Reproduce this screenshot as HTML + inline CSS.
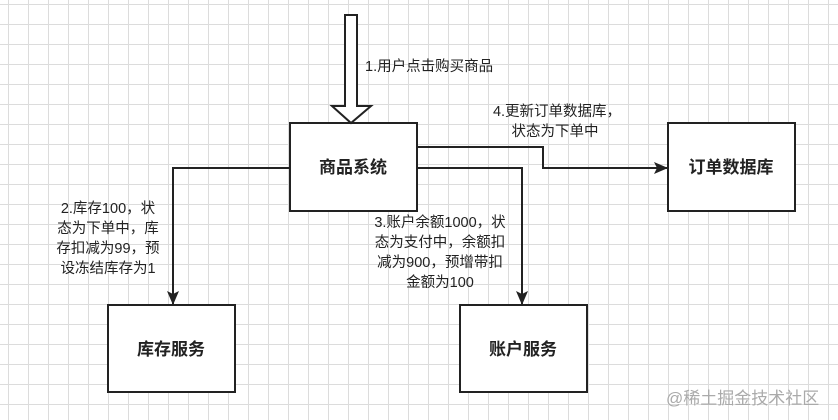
<!DOCTYPE html>
<html><head><meta charset="utf-8"><style>
body{margin:0;width:838px;height:420px;overflow:hidden;background:#fff;}
svg{display:block}
text{font-family:"Liberation Sans","Noto Sans CJK SC",sans-serif;fill:#222;}
</style></head><body>
<svg width="838" height="420" xmlns="http://www.w3.org/2000/svg">
<defs>
<pattern id="g" width="20" height="20" patternUnits="userSpaceOnUse" x="8" y="4">
<rect width="20" height="1" fill="#dcdcdc"/><rect width="1" height="20" fill="#dcdcdc"/>
</pattern>
<marker id="a" markerWidth="14" markerHeight="14" refX="13" refY="7" orient="auto" markerUnits="userSpaceOnUse" viewBox="0 0 14 14"><path d="M0,1L14,7L0,13L3,7z" fill="#222"/></marker>
</defs>
<rect width="838" height="420" fill="url(#g)"/>
<g fill="#fff" stroke="#222" stroke-width="2">
<rect x="290" y="123" width="127" height="88"/>
<rect x="668" y="123" width="127" height="88"/>
<rect x="108" y="305" width="127" height="87"/>
<rect x="460" y="305" width="127" height="87"/>
<path d="M345 15H357V106H371L351 123L332 106H345Z" stroke-width="2"/>
</g>
<g fill="none" stroke="#222" stroke-width="2">
<path d="M290 168H173V304" marker-end="url(#a)"/>
<path d="M417 147H543V168H667" marker-end="url(#a)"/>
<path d="M417 168H522V304" marker-end="url(#a)"/>
</g>
<g font-weight="bold" font-size="17" text-anchor="middle">
<text x="353" y="173">商品系统</text>
<text x="731" y="173">订单数据库</text>
<text x="171" y="355">库存服务</text>
<text x="523" y="355">账户服务</text>
</g>
<g font-size="14.5">
<text x="365" y="71">1.用户点击购买商品</text>
<g text-anchor="middle">
<text x="557" y="116">4.更新订单数据库，</text>
<text x="555" y="136">状态为下单中</text>
<text x="108" y="213">2.库存100，状</text>
<text x="108" y="233">态为下单中，库</text>
<text x="108" y="253">存扣减为99，预</text>
<text x="108" y="273">设冻结库存为1</text>
<text x="440" y="227">3.账户余额1000，状</text>
<text x="440" y="247">态为支付中，余额扣</text>
<text x="440" y="267">减为900，预增带扣</text>
<text x="440" y="287">金额为100</text>
</g>
</g>
<text x="666" y="404" font-size="17" style="fill:#aaa">@稀土掘金技术社区</text>
</svg>
</body></html>
